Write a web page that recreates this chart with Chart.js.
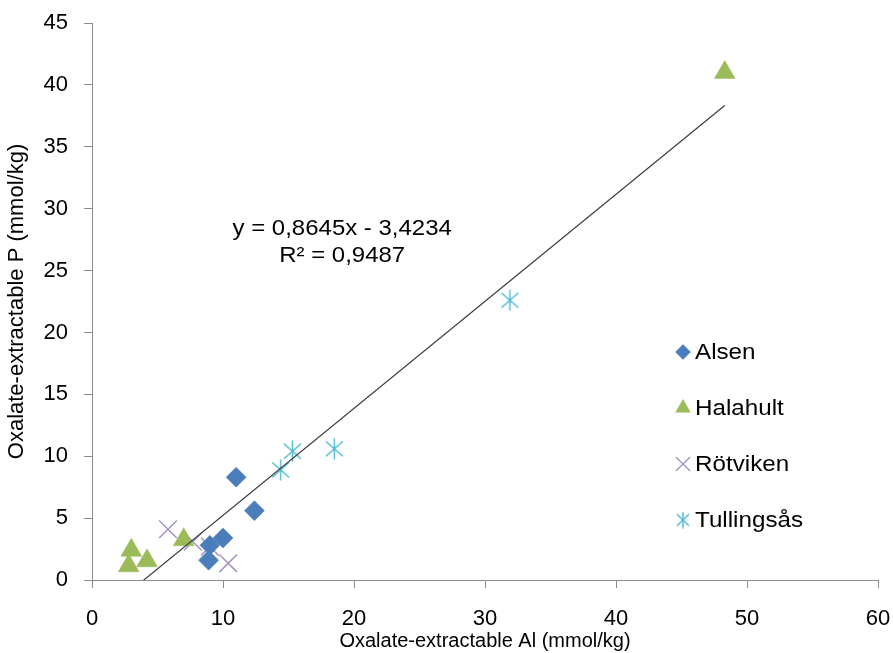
<!DOCTYPE html>
<html>
<head>
<meta charset="utf-8">
<title>Oxalate-extractable P vs Al</title>
<script src="https://cdn.jsdelivr.net/npm/chart.js@4.4.0/dist/chart.umd.min.js"></script>
<style>
    html, body { margin: 0; padding: 0; background: #fff; }
    #wrap { width: 893px; height: 653px; }
</style>
</head>
<body>
<div id="wrap"><canvas id="chart"></canvas></div>
<script>
// Series values (mmol/kg)
const seriesNames = ['Alsen', 'Halahult', 'Rötviken', 'Tullingsås'];

const alsenX = [11.0, 12.4, 10.0, 9.0, 8.9];
const alsenY = [8.3, 5.6, 3.4, 2.8, 1.6];

const halahultX = [48.3, 3.0, 2.8, 4.2, 7.0];
const halahultY = [41.0, 2.4, 1.15, 1.55, 3.25];

const rotvikenX = [5.8, 7.7, 9.0, 10.4];
const rotvikenY = [4.1, 3.1, 2.7, 1.35];

const tullingsasX = [31.9, 15.3, 14.4, 18.5];
const tullingsasY = [22.6, 10.4, 8.9, 10.6];

// Linear trendline reported in the chart
const trendSlope = 0.8645;
const trendIntercept = -3.4234;
const trendLabel = ['y = 0,8645x - 3,4234', 'R² = 0,9487'];

const xTicks = [0, 10, 20, 30, 40, 50, 60];
const yTicks = [0, 5, 10, 15, 20, 25, 30, 35, 40, 45];

const FONT = "'Liberation Sans', Arial, sans-serif";
const AXIS_GREY = '#8c8c8c';
const colors = {
    alsen: '#4a7ebb',
    halahult: '#9bbb59',
    rotviken: '#a494c6',
    tullingsas: '#4bb8d2'
};

// Excel style asterisk marker (vertical bar + X)
function makeAsterisk(w, h, color) {
    const c = document.createElement('canvas');
    c.width = w;
    c.height = h;
    const g = c.getContext('2d');
    g.strokeStyle = color;
    g.lineWidth = 1.4;
    g.beginPath();
    g.moveTo(w / 2, 0.5);
    g.lineTo(w / 2, h - 0.5);
    g.moveTo(1, h * 0.16);
    g.lineTo(w - 1, h * 0.84);
    g.moveTo(w - 1, h * 0.16);
    g.lineTo(1, h * 0.84);
    g.stroke();
    return c;
}

const asteriskBig = makeAsterisk(19, 22, colors.tullingsas);
const asteriskSmall = makeAsterisk(14, 17, colors.tullingsas);

const toPoints = (xs, ys) => xs.map((x, i) => ({ x: x, y: ys[i] }));

const allX = [].concat(alsenX, halahultX, rotvikenX, tullingsasX);
const trendMin = Math.min(...allX);
const trendMax = Math.max(...allX);

// text is a bit wider than Arial in the original, so stretch it a little
function wideText(ctx, text, x, y, stretch) {
    ctx.save();
    ctx.translate(x, y);
    ctx.scale(stretch, 1);
    ctx.fillText(text, 0, 0);
    ctx.restore();
}

// Equation text, legend drawn by hand so it can sit inside the plot area
const annotationPlugin = {
    id: 'annotations',
    afterDraw(chart) {
        const ctx = chart.ctx;
        const xs = chart.scales.x;
        const ys = chart.scales.y;

        ctx.save();
        ctx.fillStyle = '#000';
        ctx.textAlign = 'center';
        ctx.textBaseline = 'middle';
        ctx.font = '22px ' + FONT;
        const cx = xs.getPixelForValue(19.1);
        wideText(ctx, trendLabel[0], cx, ys.getPixelForValue(28.4), 1.09);
        wideText(ctx, trendLabel[1], cx, ys.getPixelForValue(26.2), 1.09);
        ctx.restore();

        const legendStyles = [
            { pointStyle: 'rectRot', radius: 7.5, fill: colors.alsen },
            { pointStyle: 'triangle', radius: 8.5, fill: colors.halahult },
            { pointStyle: 'crossRot', radius: 10, stroke: colors.rotviken },
            { pointStyle: asteriskSmall, radius: 8 }
        ];
        const mx = 683, tx = 695, top = 352, step = 56;
        ctx.save();
        ctx.font = '22px ' + FONT;
        ctx.textAlign = 'left';
        ctx.textBaseline = 'middle';
        legendStyles.forEach((s, i) => {
            const y = top + i * step;
            ctx.fillStyle = s.fill || 'transparent';
            ctx.strokeStyle = s.stroke || s.fill || 'transparent';
            ctx.lineWidth = s.stroke ? 1.4 : 0.5;
            Chart.helpers.drawPoint(ctx, {
                pointStyle: s.pointStyle,
                radius: s.radius,
                rotation: 0,
                borderWidth: ctx.lineWidth
            }, mx, y);
            ctx.fillStyle = '#000';
            wideText(ctx, seriesNames[i], tx, y + 1, 1.1);
        });
        ctx.restore();
    }
};

const tickFont = { family: FONT, size: 22 };

new Chart(document.getElementById('chart'), {
    type: 'scatter',
    data: {
        datasets: [
            {
                label: 'Trendline',
                type: 'line',
                order: -1,
                data: [
                    { x: trendMin, y: trendSlope * trendMin + trendIntercept },
                    { x: trendMax, y: trendSlope * trendMax + trendIntercept }
                ],
                borderColor: '#3c3c3c',
                borderWidth: 1.2,
                pointRadius: 0,
                fill: false
            },
            {
                label: seriesNames[0],
                data: toPoints(alsenX, alsenY),
                pointStyle: 'rectRot',
                pointRadius: 10,
                backgroundColor: colors.alsen,
                borderColor: colors.alsen,
                borderWidth: 0.5
            },
            {
                label: seriesNames[1],
                data: toPoints(halahultX, halahultY),
                pointStyle: 'triangle',
                pointRadius: 12,
                backgroundColor: colors.halahult,
                borderColor: colors.halahult,
                borderWidth: 0.5
            },
            {
                label: seriesNames[2],
                data: toPoints(rotvikenX, rotvikenY),
                pointStyle: 'crossRot',
                pointRadius: 12.5,
                borderColor: colors.rotviken,
                borderWidth: 1.5
            },
            {
                label: seriesNames[3],
                data: toPoints(tullingsasX, tullingsasY),
                pointStyle: asteriskBig,
                pointRadius: 11
            }
        ]
    },
    options: {
        responsive: true,
        maintainAspectRatio: false,
        animation: false,
        layout: {
            padding: { top: 23, right: 15, bottom: 0, left: 0 }
        },
        plugins: {
            legend: { display: false },
            tooltip: { enabled: false }
        },
        scales: {
            x: {
                type: 'linear',
                min: 0,
                max: 60,
                afterBuildTicks: (scale) => {
                    scale.ticks = xTicks.map(v => ({ value: v }));
                },
                afterFit: (scale) => {
                    scale.height = 73;
                    scale.paddingLeft = 0;
                    scale.paddingRight = 0;
                },
                grid: {
                    display: true,
                    drawOnChartArea: false,
                    drawTicks: true,
                    tickLength: 8,
                    color: AXIS_GREY
                },
                border: { display: true, color: AXIS_GREY, width: 1 },
                ticks: { color: '#000', font: tickFont, padding: 18, maxRotation: 0 },
                title: {
                    display: true,
                    text: 'Oxalate-extractable Al (mmol/kg)',
                    color: '#000',
                    font: { family: FONT, size: 20 },
                    padding: { top: 0, bottom: 0 }
                }
            },
            y: {
                type: 'linear',
                min: 0,
                max: 45,
                afterBuildTicks: (scale) => {
                    scale.ticks = yTicks.map(v => ({ value: v }));
                },
                afterFit: (scale) => {
                    scale.width = 92;
                    scale.paddingTop = 0;
                    scale.paddingBottom = 0;
                },
                grid: {
                    display: true,
                    drawOnChartArea: false,
                    drawTicks: true,
                    tickLength: 8,
                    color: AXIS_GREY
                },
                border: { display: true, color: AXIS_GREY, width: 1 },
                ticks: { color: '#000', font: tickFont, padding: 16 },
                title: {
                    display: true,
                    text: 'Oxalate-extractable P (mmol/kg)',
                    color: '#000',
                    font: { family: FONT, size: 22 },
                    padding: { top: 4, bottom: 0 }
                }
            }
        }
    },
    plugins: [annotationPlugin]
});
</script>
</body>
</html>
